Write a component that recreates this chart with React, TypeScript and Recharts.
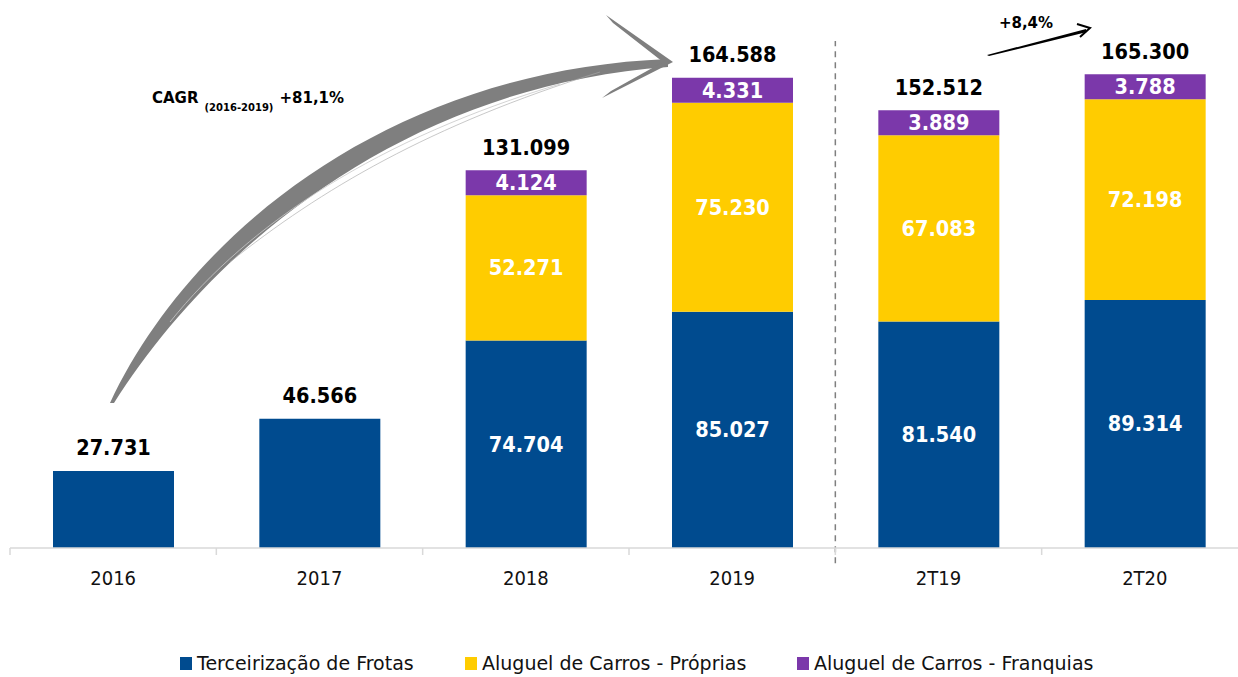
import React from 'react';
import { BarChart, Bar, XAxis, YAxis, LabelList, ReferenceLine } from 'recharts';

const categories = ['2016', '2017', '2018', '2019', '2T19', '2T20'];
const frotas = [27731, 46566, 74704, 85027, 81540, 89314];
const proprias: (number | null)[] = [null, null, 52271, 75230, 67083, 72198];
const franquias: (number | null)[] = [null, null, 4124, 4331, 3889, 3788];
const seriesNames = ['Terceirização de Frotas', 'Aluguel de Carros - Próprias', 'Aluguel de Carros - Franquias'];

const BLUE = '#004B8F';
const YELLOW = '#FFCC00';
const PURPLE = '#7B38AA';
const FONT = "'DejaVu Sans Condensed', 'DejaVu Sans', sans-serif";
const FONT_WIDE = "'DejaVu Sans', sans-serif";

const data = categories.map((c, i) => ({
  cat: c,
  frotas: frotas[i],
  proprias: proprias[i],
  franquias: franquias[i],
  total: frotas[i] + (proprias[i] ?? 0) + (franquias[i] ?? 0),
}));

const fmt = (v: number) => String(v).replace(/\B(?=(\d{3})+(?!\d))/g, '.');

const CHART_W = 1250;
const M_LEFT = 10;
const M_RIGHT = 2;
const HALF_BAND = (CHART_W - M_LEFT - M_RIGHT) / categories.length / 2;

const inside = (x: number, y: number, v: number) => (
  <text x={x} y={y} fill="#fff" fontSize={21.5} fontWeight="bold" fontFamily={FONT} textAnchor="middle" dominantBaseline="central">
    {fmt(v)}
  </text>
);
const above = (x: number, y: number, v: number) => (
  <text x={x} y={y - 23} fill="#000" fontSize={21.5} fontWeight="bold" fontFamily={FONT} textAnchor="middle" dominantBaseline="central">
    {fmt(v)}
  </text>
);

const FrotasLabel = (p: any) => {
  const { x, y, width, height, index } = p;
  const cx = Number(x) + Number(width) / 2;
  if (data[index] && data[index].proprias != null) return inside(cx, Number(y) + Number(height) / 2, Number(p.value));
  return above(cx, Number(y), data[index].total);
};
const InsideLabel = (p: any) => {
  const { x, y, width, height, value } = p;
  if (value == null || value === '') return null;
  return inside(Number(x) + Number(width) / 2, Number(y) + Number(height) / 2, Number(value));
};
const TotalLabel = (p: any) => {
  const { x, y, width, value } = p;
  if (value == null || value === '') return null;
  return above(Number(x) + Number(width) / 2, Number(y), Number(value));
};

const Tick = (p: any) => {
  const { x, y, payload, index } = p;
  const ay = Number(y) - 8;
  return (
    <g>
      <text x={x} y={Number(y) + 29} textAnchor="middle" fontSize={20} fill="#111" fontFamily={FONT}>
        {payload.value}
      </text>
      <line x1={x - HALF_BAND} x2={x - HALF_BAND} y1={ay} y2={ay + 7} stroke="#d9d9d9" strokeWidth={1.5} />
      {index === categories.length - 1 ? (
        <line x1={x + HALF_BAND} x2={x + HALF_BAND} y1={ay} y2={ay + 7} stroke="#d9d9d9" strokeWidth={1.5} />
      ) : null}
    </g>
  );
};

const legendItems = [
  { name: seriesNames[0], color: BLUE, left: 180 },
  { name: seriesNames[1], color: YELLOW, left: 465 },
  { name: seriesNames[2], color: PURPLE, left: 797 },
];

export default function App() {
  return (
    <div style={{ position: 'absolute', left: 0, top: 0, width: 1238, height: 677, overflow: 'hidden', background: '#fff' }}>
      <BarChart
        width={CHART_W}
        height={677}
        data={data}
        margin={{ top: 48, right: M_RIGHT, bottom: 99, left: M_LEFT }}
        barSize={121}
      >
        <XAxis dataKey="cat" axisLine={{ stroke: '#d9d9d9', strokeWidth: 1.5 }} tickLine={false} tick={<Tick />} interval={0} height={30} />
        <YAxis hide domain={[0, 180000]} />
        <ReferenceLine
          segment={[{ x: '2T19', y: -5500 }, { x: '2T19', y: 182500 }]}
          position="start"
          ifOverflow="visible"
          stroke="#7f7f7f"
          strokeWidth={1.5}
          strokeDasharray="6 5"
        />
        <Bar dataKey="frotas" name={seriesNames[0]} stackId="a" fill={BLUE} isAnimationActive={false}>
          <LabelList dataKey="frotas" content={<FrotasLabel />} />
        </Bar>
        <Bar dataKey="proprias" name={seriesNames[1]} stackId="a" fill={YELLOW} isAnimationActive={false}>
          <LabelList dataKey="proprias" content={<InsideLabel />} />
        </Bar>
        <Bar
          dataKey="franquias"
          name={seriesNames[2]}
          stackId="a"
          fill={PURPLE}
          isAnimationActive={false}
          minPointSize={(_v: any, i: number) => (franquias[i] != null ? 25 : 0)}
        >
          <LabelList dataKey="franquias" content={<InsideLabel />} />
          <LabelList dataKey="total" content={<TotalLabel />} />
        </Bar>
      </BarChart>

      <svg width={1238} height={677} style={{ position: 'absolute', left: 0, top: 0, pointerEvents: 'none' }}>
        {/* CAGR curved arrow */}
        <path
          d="M 110 403 C 190 232, 392 70, 668 59 L 668 67 C 404 86, 212 248, 114 403 Z"
          fill="#7f7f7f"
        />
        <path d="M 170 322 C 250 222, 380 138, 560 84" stroke="#c8c8c8" strokeWidth={1} fill="none" opacity={0.8} />
        <path d="M 230 262 C 320 190, 430 125, 600 72" stroke="#a8a8a8" strokeWidth={0.8} fill="none" opacity={0.8} />
        <path d="M 606 15 L 673 62 L 602 98 L 611 91 L 663 62 L 613 23 Z" fill="#7f7f7f" />
        <text x={152} y={103} fontSize={15} fontWeight="bold" fontFamily={FONT_WIDE} fill="#000">
          CAGR
          <tspan fontSize={10} dy={8} dx={6}>(2016-2019)</tspan>
          <tspan fontSize={15} dy={-8} dx={6}>+81,1%</tspan>
        </text>
        {/* +8,4% arrow */}
        <path d="M 987 55 L 1086 29 L 1087 32 L 989 56 Z" fill="#000" />
        <path d="M 1077 24 L 1090 28 L 1080 37" stroke="#000" strokeWidth={2} fill="none" />
        <text x={1026} y={28} fontSize={15} fontWeight="bold" fontFamily={FONT_WIDE} fill="#000" textAnchor="middle">+8,4%</text>
      </svg>

      {legendItems.map((it) => (
        <div
          key={it.name}
          style={{ position: 'absolute', left: it.left, top: 652, display: 'flex', alignItems: 'center', fontFamily: FONT_WIDE, fontSize: 19, color: '#111', whiteSpace: 'nowrap' }}
        >
          <span style={{ display: 'inline-block', width: 12, height: 13, background: it.color, marginRight: 5 }} />
          <span>{it.name}</span>
        </div>
      ))}
    </div>
  );
}
